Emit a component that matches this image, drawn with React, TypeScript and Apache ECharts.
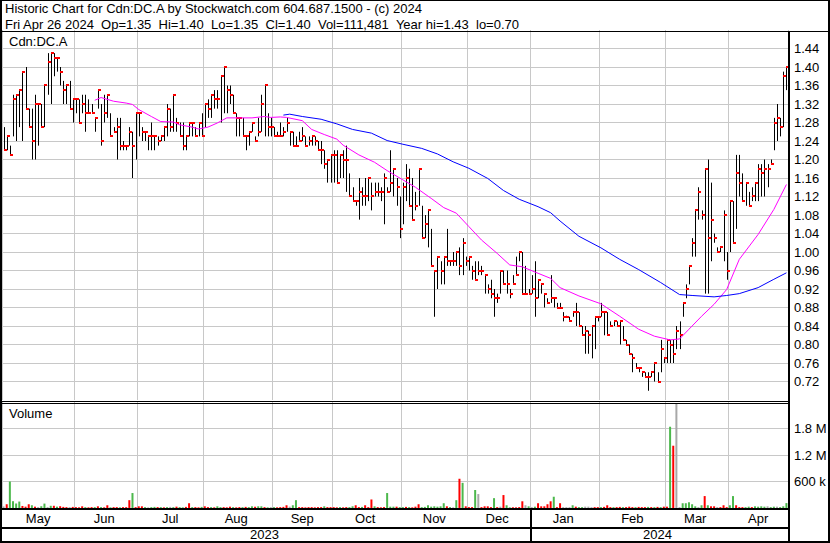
import React, { useEffect, useRef } from "react";
import * as echarts from "echarts";

// ---------- labels ----------
const MONTHS = ["May", "Jun", "Jul", "Aug", "Sep", "Oct", "Nov", "Dec", "Jan", "Feb", "Mar", "Apr"];
const YEAR_LABELS = ["2023", "2024"];
const YEAR_FIRST_MONTH = [0, 8];
const HEADER_1 = "Historic Chart for Cdn:DC.A by Stockwatch.com 604.687.1500 - (c) 2024";
const HEADER_2 =
  "Fri Apr 26 2024\u00a0\u00a0Op=1.35\u00a0\u00a0Hi=1.40\u00a0\u00a0Lo=1.35\u00a0\u00a0Cl=1.40\u00a0\u00a0Vol=111,481\u00a0\u00a0Year hi=1.43\u00a0\u00a0lo=0.70";
const SYMBOL = "Cdn:DC.A";
const VOLUME_TITLE = "Volume";

// ---------- daily bars: [high, low, close] ----------
const BARS_MAY = [
  [1.27, 1.22, 1.22], [1.25, 1.22, 1.25], [1.23, 1.21, 1.21], [1.34, 1.25, 1.33], [1.34, 1.24, 1.34],
  [1.35, 1.27, 1.35], [1.39, 1.24, 1.39], [1.40, 1.31, 1.31], [1.31, 1.27, 1.27], [1.31, 1.20, 1.24],
  [1.34, 1.20, 1.32], [1.32, 1.23, 1.32], [1.32, 1.27, 1.27], [1.36, 1.27, 1.36], [1.43, 1.34, 1.41],
  [1.43, 1.32, 1.43], [1.43, 1.38, 1.42], [1.42, 1.39, 1.42], [1.40, 1.36, 1.39], [1.37, 1.32, 1.35],
  [1.36, 1.32, 1.36], [1.37, 1.31, 1.31], [1.33, 1.28, 1.33],
];
const BARS_JUN = [
  [1.33, 1.30, 1.33], [1.33, 1.28, 1.28], [1.34, 1.30, 1.32], [1.34, 1.26, 1.30], [1.33, 1.30, 1.30],
  [1.32, 1.30, 1.30], [1.29, 1.26, 1.29], [1.35, 1.31, 1.35], [1.32, 1.23, 1.24], [1.34, 1.28, 1.30],
  [1.34, 1.29, 1.34], [1.30, 1.25, 1.25], [1.27, 1.26, 1.26], [1.29, 1.20, 1.27], [1.29, 1.22, 1.23],
  [1.24, 1.22, 1.23], [1.23, 1.22, 1.23], [1.27, 1.23, 1.26], [1.26, 1.16, 1.23], [1.30, 1.20, 1.30],
];
const BARS_JUL = [
  [1.30, 1.25, 1.30], [1.27, 1.24, 1.26], [1.26, 1.24, 1.26], [1.25, 1.22, 1.25], [1.28, 1.22, 1.25],
  [1.25, 1.22, 1.25], [1.25, 1.23, 1.24], [1.25, 1.24, 1.25], [1.27, 1.24, 1.27], [1.32, 1.25, 1.31],
  [1.31, 1.26, 1.27], [1.34, 1.26, 1.34], [1.29, 1.26, 1.28], [1.28, 1.25, 1.25], [1.28, 1.22, 1.23],
  [1.25, 1.22, 1.25], [1.28, 1.25, 1.28], [1.28, 1.25, 1.28], [1.27, 1.25, 1.25], [1.28, 1.25, 1.28],
  [1.30, 1.25, 1.25],
];
const BARS_AUG = [
  [1.32, 1.27, 1.32], [1.33, 1.29, 1.31], [1.34, 1.29, 1.34], [1.35, 1.31, 1.33], [1.35, 1.31, 1.33],
  [1.38, 1.28, 1.38], [1.40, 1.30, 1.40], [1.36, 1.30, 1.35], [1.36, 1.32, 1.34], [1.34, 1.30, 1.30],
  [1.30, 1.25, 1.29], [1.29, 1.25, 1.29], [1.29, 1.25, 1.25], [1.25, 1.22, 1.25], [1.26, 1.23, 1.26],
  [1.28, 1.26, 1.28], [1.25, 1.24, 1.24], [1.29, 1.25, 1.26], [1.34, 1.26, 1.32], [1.36, 1.25, 1.36],
  [1.30, 1.25, 1.27], [1.29, 1.25, 1.27],
];
const BARS_SEP = [
  [1.27, 1.25, 1.25], [1.26, 1.25, 1.25], [1.28, 1.25, 1.25], [1.27, 1.25, 1.26], [1.29, 1.26, 1.28],
  [1.26, 1.23, 1.26], [1.26, 1.23, 1.23], [1.25, 1.23, 1.23], [1.26, 1.24, 1.24], [1.27, 1.24, 1.25],
  [1.25, 1.23, 1.23], [1.25, 1.23, 1.24], [1.25, 1.23, 1.25], [1.25, 1.23, 1.24], [1.24, 1.22, 1.22],
  [1.24, 1.19, 1.22], [1.22, 1.18, 1.19], [1.20, 1.15, 1.20], [1.21, 1.15, 1.21],
];
const BARS_OCT = [
  [1.22, 1.15, 1.21], [1.22, 1.15, 1.15], [1.21, 1.16, 1.21], [1.22, 1.16, 1.20], [1.23, 1.13, 1.20],
  [1.17, 1.12, 1.12], [1.14, 1.11, 1.11], [1.11, 1.10, 1.11], [1.16, 1.07, 1.13], [1.14, 1.10, 1.12],
  [1.16, 1.10, 1.12], [1.16, 1.11, 1.16], [1.15, 1.09, 1.12], [1.15, 1.12, 1.13], [1.15, 1.12, 1.13],
  [1.14, 1.11, 1.13], [1.17, 1.06, 1.16], [1.14, 1.13, 1.13], [1.22, 1.13, 1.15], [1.18, 1.12, 1.18],
  [1.16, 1.10, 1.14], [1.12, 1.03, 1.05],
];
const BARS_NOV = [
  [1.15, 1.06, 1.14], [1.19, 1.11, 1.16], [1.18, 1.10, 1.10], [1.16, 1.07, 1.07], [1.13, 1.09, 1.10],
  [1.18, 1.10, 1.18], [1.10, 1.03, 1.03], [1.08, 1.03, 1.06], [1.09, 1.01, 1.09], [1.05, 0.97, 0.97],
  [0.96, 0.86, 0.96], [0.99, 0.92, 0.99], [0.98, 0.93, 0.96], [0.99, 0.93, 0.99], [1.05, 0.97, 0.98],
  [0.98, 0.97, 0.98], [1.00, 0.97, 0.98], [1.00, 0.97, 1.00], [1.01, 0.95, 0.97], [1.03, 0.95, 1.02],
  [0.99, 0.97, 0.98],
];
const BARS_DEC = [
  [0.99, 0.96, 0.99], [0.97, 0.94, 0.96], [0.98, 0.94, 0.94], [0.98, 0.95, 0.96], [0.97, 0.95, 0.96],
  [0.95, 0.91, 0.95], [0.93, 0.91, 0.92], [0.94, 0.90, 0.91], [0.92, 0.86, 0.90], [0.91, 0.89, 0.90],
  [0.96, 0.91, 0.96], [0.96, 0.93, 0.93], [0.96, 0.91, 0.93], [0.92, 0.90, 0.91], [0.95, 0.93, 0.93],
  [0.99, 0.95, 0.95], [1.00, 0.98, 1.00], [1.00, 0.91, 0.91], [0.97, 0.91, 0.91], [0.92, 0.91, 0.91],
];
const BARS_JAN = [
  [0.95, 0.91, 0.92], [0.98, 0.86, 0.90], [0.94, 0.90, 0.94], [0.93, 0.91, 0.93], [0.91, 0.88, 0.91],
  [0.90, 0.89, 0.89], [0.95, 0.89, 0.90], [0.90, 0.88, 0.90], [0.89, 0.88, 0.88], [0.89, 0.88, 0.88],
  [0.87, 0.85, 0.86], [0.86, 0.86, 0.86], [0.86, 0.85, 0.85], [0.87, 0.86, 0.87], [0.89, 0.84, 0.87],
  [0.87, 0.84, 0.84], [0.84, 0.82, 0.82], [0.84, 0.78, 0.83], [0.83, 0.78, 0.82], [0.84, 0.77, 0.84],
  [0.86, 0.79, 0.86], [0.86, 0.85, 0.86],
];
const BARS_FEB = [
  [0.89, 0.86, 0.87], [0.87, 0.82, 0.87], [0.87, 0.82, 0.82], [0.85, 0.84, 0.84], [0.85, 0.84, 0.85],
  [0.85, 0.84, 0.84], [0.85, 0.80, 0.85], [0.84, 0.81, 0.81], [0.81, 0.80, 0.80], [0.80, 0.78, 0.78],
  [0.78, 0.74, 0.77], [0.76, 0.75, 0.75], [0.75, 0.74, 0.75], [0.74, 0.73, 0.74], [0.74, 0.73, 0.73],
  [0.74, 0.70, 0.73], [0.74, 0.73, 0.74], [0.76, 0.72, 0.76], [0.74, 0.72, 0.72], [0.81, 0.74, 0.79],
  [0.77, 0.76, 0.77],
];
const BARS_MAR = [
  [0.81, 0.76, 0.81], [0.81, 0.76, 0.80], [0.81, 0.76, 0.78], [0.84, 0.79, 0.83], [0.85, 0.79, 0.82],
  [0.89, 0.86, 0.89], [0.93, 0.90, 0.92], [0.97, 0.93, 0.97], [1.03, 0.99, 1.02], [1.09, 0.99, 1.09],
  [1.14, 1.07, 1.13], [1.09, 1.07, 1.08], [1.18, 0.91, 1.18], [1.20, 0.91, 1.03], [1.15, 0.98, 1.07],
  [1.04, 1.02, 1.03], [1.01, 1.00, 1.00], [1.01, 1.00, 1.01], [1.09, 0.98, 1.08], [1.00, 0.94, 0.96],
];
const BARS_APR = [
  [1.11, 1.00, 1.11], [1.11, 1.02, 1.02], [1.21, 1.05, 1.17], [1.21, 1.12, 1.15], [1.17, 1.11, 1.11],
  [1.15, 1.10, 1.15], [1.13, 1.10, 1.10], [1.14, 1.11, 1.12], [1.15, 1.11, 1.15], [1.19, 1.11, 1.18],
  [1.19, 1.12, 1.17], [1.20, 1.12, 1.18], [1.19, 1.14, 1.18], [1.20, 1.19, 1.19], [1.29, 1.22, 1.28],
  [1.32, 1.24, 1.29], [1.29, 1.25, 1.27], [1.39, 1.27, 1.38], [1.40, 1.35, 1.40],
];

// ---------- daily volume (thousands) ----------
const VOL_MAY = [35, 85, 600, 154, 100, 146, 46, 30, 85, 62, 30, 20, 40, 100, 20, 50, 50, 30, 40, 25, 20, 20, 25];
const VOL_JUN = [20, 15, 38, 20, 15, 20, 20, 38, 20, 15, 62, 15, 20, 20, 15, 20, 20, 177, 339, 20];
const VOL_JUL = [38, 38, 20, 15, 20, 25, 20, 20, 15, 20, 25, 20, 30, 20, 15, 25, 108, 20, 20, 15, 25];
const VOL_AUG = [38, 20, 20, 15, 38, 20, 20, 15, 30, 20, 15, 20, 20, 25, 20, 38, 30, 38, 38, 20, 15, 20];
const VOL_SEP = [20, 15, 20, 25, 62, 30, 62, 177, 20, 20, 15, 20, 20, 15, 20, 20, 38, 20, 20];
const VOL_OCT = [20, 15, 20, 15, 20, 20, 38, 62, 20, 25, 62, 20, 193, 38, 20, 15, 20, 339, 30, 30, 30, 20];
const VOL_NOV = [20, 25, 20, 15, 30, 85, 20, 25, 62, 30, 38, 30, 38, 108, 38, 20, 15, 177, 662, 570, 38];
const VOL_DEC = [20, 20, 408, 316, 20, 38, 38, 20, 223, 20, 30, 293, 62, 15, 15, 15, 20, 152, 62, 38];
const VOL_JAN = [20, 30, 108, 38, 38, 85, 152, 255, 20, 108, 20, 20, 20, 62, 30, 20, 20, 30, 30, 20, 20, 20];
const VOL_FEB = [20, 25, 62, 20, 20, 20, 25, 20, 20, 30, 20, 20, 25, 20, 20, 25, 20, 20, 25, 20, 30];
const VOL_MAR = [30, 1840, 1410, 2370, 20, 108, 108, 130, 85, 38, 20, 62, 270, 62, 38, 38, 20, 20, 62, 20];
const VOL_APR = [62, 270, 62, 20, 20, 20, 30, 20, 38, 30, 38, 30, 38, 20, 30, 30, 20, 38, 111];

// ---------- volume direction: g = up, r = down, n = unchanged ----------
const DIR_MAY = "nrggggrrrgrnggngrgrrrnr";
const DIR_JUN = "rrrgrrgrgrrgrrgrrrgr";
const DIR_JUL = "rrgnggrgrgngrggrrgrrg";
const DIR_AUG = "rrgrggrrrgrrgrggrggrgn";
const DIR_SEP = "grrrrnggrrrrrrrrgrr";
const DIR_OCT = "rrgrrggrrgrrrgrrrgggrg";
const DIR_NOV = "grgrrrggggggggrgngrgr";
const DIR_DEC = "rrgnrrrrgrnrggrrrrng";
const DIR_JAN = "ngrrrrrgrrnnngrggnnnrr";
const DIR_FEB = "grrrgrrgrrrgrrrgrgrgr";
const DIR_MAR = "rgrnngggggngrgrrnrrr";
const DIR_APR = "ggrrrggrggggnggnggg";

// ---------- moving averages: [bar index, value] ----------
const MA_SHORT = [
  [29, 1.328], [31, 1.334], [35, 1.326], [39, 1.322], [41, 1.319], [43, 1.308], [47, 1.293], [50, 1.282],
  [54, 1.281], [56, 1.275], [60, 1.27], [62, 1.266], [65, 1.27], [68, 1.279], [71, 1.29], [75, 1.29],
  [79, 1.29], [83, 1.293], [85, 1.291], [88, 1.292], [90, 1.291], [95, 1.284], [98, 1.265], [102, 1.254],
  [106, 1.244], [108, 1.231], [113, 1.21], [118, 1.194], [122, 1.176], [127, 1.156], [131, 1.14],
  [136, 1.116], [140, 1.096], [144, 1.084], [148, 1.055], [152, 1.026], [157, 0.997], [161, 0.972],
  [165, 0.968], [170, 0.954], [174, 0.943], [177, 0.923], [183, 0.905], [190, 0.888], [196, 0.861],
  [202, 0.833], [207, 0.818], [212, 0.81], [215, 0.812], [218, 0.833], [222, 0.861], [226, 0.887],
  [230, 0.919], [234, 0.984], [240, 1.038], [245, 1.092], [249, 1.146],
];
const MA_LONG = [
  [89, 1.296], [91, 1.298], [95, 1.293], [101, 1.287], [106, 1.277], [111, 1.265], [117, 1.257],
  [122, 1.241], [127, 1.233], [133, 1.224], [138, 1.212], [143, 1.195], [148, 1.181], [154, 1.159],
  [159, 1.133], [164, 1.114], [170, 1.098], [174, 1.085], [177, 1.067], [183, 1.034], [190, 1.009],
  [196, 0.984], [202, 0.962], [209, 0.934], [215, 0.908], [219, 0.906], [226, 0.903], [230, 0.906],
  [234, 0.91], [240, 0.923], [245, 0.941], [249, 0.955],
];

// ---------- axis scales ----------
const PRICE_MIN = 0.68;
const PRICE_MAX = 1.48;
const PRICE_STEP = 0.04;
const VOL_MAX = 2400000;
const VOL_STEP = 600000;

// ---------- derived ----------
const BARS = [BARS_MAY, BARS_JUN, BARS_JUL, BARS_AUG, BARS_SEP, BARS_OCT, BARS_NOV, BARS_DEC, BARS_JAN, BARS_FEB, BARS_MAR, BARS_APR];
const VOLS = [VOL_MAY, VOL_JUN, VOL_JUL, VOL_AUG, VOL_SEP, VOL_OCT, VOL_NOV, VOL_DEC, VOL_JAN, VOL_FEB, VOL_MAR, VOL_APR];
const DIRS = [DIR_MAY, DIR_JUN, DIR_JUL, DIR_AUG, DIR_SEP, DIR_OCT, DIR_NOV, DIR_DEC, DIR_JAN, DIR_FEB, DIR_MAR, DIR_APR];

const FONT = '"Liberation Sans", Arial, sans-serif';
const GRID_LINE = "#c8c8c8";
const DIR_COLOR: Record<string, string> = { g: "#4cb84c", r: "#ff0000", n: "#a8a8a8" };

export default function App() {
  const ref = useRef<HTMLDivElement>(null);

  useEffect(() => {
    document.body.style.margin = "0";
    document.body.style.background = "#fff";
    if (!ref.current) return;
    const chart = echarts.init(ref.current, null, { renderer: "svg" });

    const hlc = BARS.flat();
    const N = hlc.length;
    const categories = hlc.map((_, i) => String(i));
    const monthStart: number[] = [];
    const monthMid: number[] = [];
    const monthOfBar: number[] = [];
    let k = 0;
    BARS.forEach((m, mi) => {
      monthStart.push(k);
      monthMid.push(k + Math.floor((m.length - 1) / 2));
      m.forEach(() => monthOfBar.push(mi));
      k += m.length;
    });
    const yearMid = YEAR_FIRST_MONTH.map((fm, yi) => {
      const s = monthStart[fm];
      const e = yi + 1 < YEAR_FIRST_MONTH.length ? monthStart[YEAR_FIRST_MONTH[yi + 1]] - 1 : N - 1;
      return Math.floor((s + e) / 2);
    });
    const startSet = new Set(monthStart);
    const midSet = new Set(monthMid);
    const yearMidSet = new Set(yearMid);

    const vols = VOLS.flat();
    const dirs = DIRS.join("");
    const volData = vols.map((v, i) => ({ value: v * 1000, itemStyle: { color: DIR_COLOR[dirs[i]] || DIR_COLOR.n } }));
    const ohlc = hlc.map((b, i) => [i, b[1], b[0], b[2]]);

    const L = 2;
    const W = 786;
    const yearSepX = L + (monthStart[YEAR_FIRST_MONTH[1]] * W) / N;

    const splitX = {
      show: true,
      interval: (idx: number) => startSet.has(idx),
      lineStyle: { color: GRID_LINE, width: 1 },
    };

    const black = (x: number, y: number, w: number, h: number) => ({
      type: "rect",
      z: 100,
      silent: true,
      shape: { x, y, width: w, height: h },
      style: { fill: "#000" },
    });
    const txt = (x: number, y: number, text: string) => ({
      type: "text",
      z: 101,
      silent: true,
      x,
      y,
      style: { text, font: `13px ${FONT}`, fill: "#000", verticalAlign: "middle", align: "left" },
    });

    const option: any = {
      animation: false,
      backgroundColor: "#fff",
      grid: [
        { left: L, top: 30, width: W, height: 370 },
        { left: L, top: 402, width: W, height: 106 },
      ],
      xAxis: [
        {
          type: "category",
          gridIndex: 0,
          data: categories,
          boundaryGap: true,
          position: "bottom",
          offset: 108,
          axisLine: { show: false },
          axisTick: { show: false },
          axisLabel: {
            interval: (idx: number) => yearMidSet.has(idx),
            formatter: (_v: string, idx: number) => {
              const yi = yearMid.indexOf(idx);
              return yi >= 0 ? YEAR_LABELS[yi] : "";
            },
            margin: 20,
            color: "#000",
            fontSize: 13,
            fontFamily: FONT,
          },
          splitLine: splitX,
        },
        {
          type: "category",
          gridIndex: 1,
          data: categories,
          boundaryGap: true,
          position: "bottom",
          axisLine: { show: false },
          axisTick: { show: false },
          axisLabel: {
            interval: (idx: number) => midSet.has(idx),
            formatter: (_v: string, idx: number) => MONTHS[monthOfBar[idx]],
            margin: 4,
            color: "#000",
            fontSize: 13,
            fontFamily: FONT,
          },
          splitLine: splitX,
        },
      ],
      yAxis: [
        {
          type: "value",
          gridIndex: 0,
          position: "right",
          min: PRICE_MIN,
          max: PRICE_MAX,
          interval: PRICE_STEP,
          axisLine: { show: false },
          axisTick: { show: false },
          axisLabel: {
            showMinLabel: false,
            showMaxLabel: false,
            margin: 6,
            color: "#000",
            fontSize: 13,
            fontFamily: FONT,
            formatter: (v: number) => v.toFixed(2),
          },
          splitLine: { show: true, showMinLine: false, showMaxLine: false, lineStyle: { color: GRID_LINE, width: 1 } },
        },
        {
          type: "value",
          gridIndex: 1,
          position: "right",
          min: 0,
          max: VOL_MAX,
          interval: VOL_STEP,
          axisLine: { show: false },
          axisTick: { show: false },
          axisLabel: {
            showMinLabel: false,
            showMaxLabel: false,
            margin: 6,
            color: "#000",
            fontSize: 13,
            fontFamily: FONT,
            formatter: (v: number) => (v >= 1e6 ? (v / 1e6).toFixed(1) + " M" : Math.round(v / 1000) + " k"),
          },
          splitLine: { show: true, showMinLine: false, showMaxLine: false, lineStyle: { color: GRID_LINE, width: 1 } },
        },
      ],
      series: [
        {
          type: "custom",
          xAxisIndex: 0,
          yAxisIndex: 0,
          data: ohlc,
          encode: { x: 0, y: [1, 2, 3] },
          z: 3,
          renderItem: (_p: any, api: any) => {
            const i = api.value(0);
            const lo = api.coord([i, api.value(1)]);
            const hi = api.coord([i, api.value(2)]);
            const cl = api.coord([i, api.value(3)]);
            const px = Math.round(lo[0]);
            const y1 = Math.min(hi[1], lo[1] - 1);
            return {
              type: "group",
              children: [
                { type: "line", shape: { x1: px + 0.5, y1, x2: px + 0.5, y2: lo[1] }, style: { stroke: "#000", lineWidth: 1 } },
                { type: "rect", shape: { x: px, y: Math.round(cl[1]) - 1, width: 3, height: 2 }, style: { fill: "#ff0000" } },
              ],
            };
          },
        },
        {
          type: "line",
          xAxisIndex: 0,
          yAxisIndex: 0,
          data: MA_SHORT,
          symbol: "none",
          z: 4,
          lineStyle: { color: "#ff00ff", width: 1 },
        },
        {
          type: "line",
          xAxisIndex: 0,
          yAxisIndex: 0,
          data: MA_LONG,
          symbol: "none",
          z: 4,
          lineStyle: { color: "#0000ff", width: 1 },
        },
        {
          type: "bar",
          xAxisIndex: 1,
          yAxisIndex: 1,
          data: volData,
          barWidth: 2,
        },
      ],
      graphic: {
        elements: [
          black(0, 0, 830, 1),
          black(0, 0, 2, 543),
          black(828, 0, 2, 543),
          black(0, 541, 830, 2),
          black(0, 31, 830, 1),
          black(788, 31, 2, 512),
          black(0, 401, 790, 1),
          black(0, 403, 790, 1),
          black(0, 508, 790, 2),
          black(0, 527, 790, 2),
          black(Math.round(yearSepX), 508, 2, 35),
          txt(5, 8, HEADER_1),
          txt(5, 24, HEADER_2),
          txt(9, 41, SYMBOL),
          txt(9, 413, VOLUME_TITLE),
        ],
      },
    };

    chart.setOption(option);
    return () => chart.dispose();
  }, []);

  return <div ref={ref} style={{ width: 830, height: 543 }} />;
}
